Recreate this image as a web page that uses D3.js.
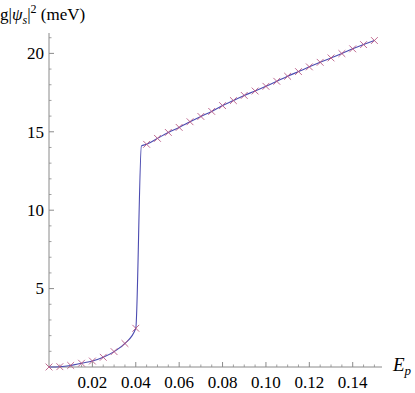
<!DOCTYPE html>
<html lang="en">
<head>
    <meta charset="UTF-8">
    <title>g|psi_s|^2 vs E_p</title>
    <script src="https://d3js.org/d3.v7.min.js"></script>
    <style>
        body { margin: 0; background: #fff; }
        svg { display: block; }
        .tick-label { font-size: 17px; }
    </style>
</head>
<body>
    <svg id="chart"></svg>
    <script>
        // sample points (the crosses)
        const epValues = [0, 0.005, 0.01, 0.015, 0.02, 0.025, 0.03, 0.035, 0.04,
            0.045, 0.05, 0.055, 0.06, 0.065, 0.07, 0.075, 0.08, 0.085, 0.09, 0.095,
            0.1, 0.105, 0.11, 0.115, 0.12, 0.125, 0.13, 0.135, 0.14, 0.145, 0.15];
        const gPsiValues = [0, 0.02, 0.1, 0.24, 0.38, 0.62, 0.98, 1.5, 2.47,
            14.2, 14.58, 14.96, 15.28, 15.64, 15.98, 16.3, 16.67, 16.99, 17.32, 17.6,
            17.9, 18.22, 18.54, 18.84, 19.14, 19.43, 19.71, 19.99, 20.29, 20.56, 20.82];

        // the continuous curve: same points plus the top of the jump
        const jumpEp = [0.0426];
        const jumpG = [14.1];

        const xMajor = [0.02, 0.04, 0.06, 0.08, 0.10, 0.12, 0.14];
        const xMajorLabels = ["0.02", "0.04", "0.06", "0.08", "0.10", "0.12", "0.14"];
        const yMajor = [5, 10, 15, 20];

        const width = 415, height = 393;
        const serif = "'Liberation Serif', 'Times New Roman', Times, 'DejaVu Serif', serif";
        const svg = d3.select("#chart").attr("width", width).attr("height", height)
          .attr("font-family", serif);

        const x = d3.scaleLinear().domain([0, 0.1535]).range([49, 382]);
        const y = d3.scaleLinear().domain([0, 21.3]).range([367, 33]);

        const axisColor = "#8a8a8a";

        // minor ticks
        const xMinor = d3.range(0.005, 0.151, 0.005).filter(v => !xMajor.some(m => Math.abs(m - v) < 1e-6));
        const yMinor = d3.range(1, 21.5, 1).filter(v => !yMajor.includes(v));

        // x axis
        svg.append("line")
          .attr("x1", x(0)).attr("x2", x.range()[1])
          .attr("y1", y(0)).attr("y2", y(0))
          .attr("stroke", axisColor).attr("stroke-width", 1);
        svg.selectAll(".xminor").data(xMinor).enter().append("line")
          .attr("x1", d => x(d)).attr("x2", d => x(d))
          .attr("y1", y(0)).attr("y2", y(0) - 2.5)
          .attr("stroke", axisColor).attr("stroke-width", 0.8);
        svg.selectAll(".xmajor").data(xMajor).enter().append("line")
          .attr("x1", d => x(d)).attr("x2", d => x(d))
          .attr("y1", y(0)).attr("y2", y(0) - 5)
          .attr("stroke", axisColor).attr("stroke-width", 1);
        svg.selectAll(".xlab").data(xMajor).enter().append("text")
          .attr("class", "tick-label")
          .attr("x", d => x(d)).attr("y", 388)
          .attr("text-anchor", "middle")
          .text((d, i) => xMajorLabels[i]);

        // y axis
        svg.append("line")
          .attr("x1", x(0)).attr("x2", x(0))
          .attr("y1", y(0)).attr("y2", y.range()[1])
          .attr("stroke", axisColor).attr("stroke-width", 1);
        svg.selectAll(".yminor").data(yMinor).enter().append("line")
          .attr("x1", x(0)).attr("x2", x(0) + 2.5)
          .attr("y1", d => y(d)).attr("y2", d => y(d))
          .attr("stroke", axisColor).attr("stroke-width", 0.8);
        svg.selectAll(".ymajor").data(yMajor).enter().append("line")
          .attr("x1", x(0)).attr("x2", x(0) + 5)
          .attr("y1", d => y(d)).attr("y2", d => y(d))
          .attr("stroke", axisColor).attr("stroke-width", 1);
        svg.selectAll(".ylab").data(yMajor).enter().append("text")
          .attr("class", "tick-label")
          .attr("x", 44).attr("y", d => y(d))
          .attr("dy", "0.34em")
          .attr("text-anchor", "end")
          .text(d => d);

        // curve
        const pts = epValues.map((e, i) => [e, gPsiValues[i]]);
        pts.splice(9, 0, [jumpEp[0], jumpG[0]]);
        const line = d3.line()
          .x(d => x(d[0])).y(d => y(d[1]))
          .curve(d3.curveMonotoneX);
        svg.append("path")
          .attr("d", line(pts))
          .attr("fill", "none")
          .attr("stroke", "#4b4bb0")
          .attr("stroke-width", 1.1);

        // crosses
        const s = 3.4;
        const marks = svg.selectAll(".mark").data(epValues).enter().append("g")
          .attr("transform", (d, i) => `translate(${x(d)},${y(gPsiValues[i])})`);
        marks.append("path")
          .attr("d", `M${-s},${-s}L${s},${s}M${-s},${s}L${s},${-s}`)
          .attr("stroke", "#b5527f")
          .attr("stroke-opacity", 0.85)
          .attr("stroke-width", 1);

        // axis titles
        const yt = svg.append("text").attr("x", 0).attr("y", 20).style("font-size", "17px");
        yt.append("tspan").text("g|");
        yt.append("tspan").style("font-style", "italic").text("ψ");
        yt.append("tspan").style("font-style", "italic").style("font-size", "12px").attr("dy", 4).text("s");
        yt.append("tspan").attr("dy", -4).text("|");
        yt.append("tspan").style("font-size", "12px").attr("dy", -7).text("2");
        yt.append("tspan").attr("dy", 7).text(" (meV)");

        const xt = svg.append("text").attr("x", 393).attr("y", 371).style("font-size", "19px");
        xt.append("tspan").style("font-style", "italic").text("E");
        xt.append("tspan").style("font-style", "italic").style("font-size", "13px").attr("dy", 4).text("p");
    </script>
</body>
</html>
